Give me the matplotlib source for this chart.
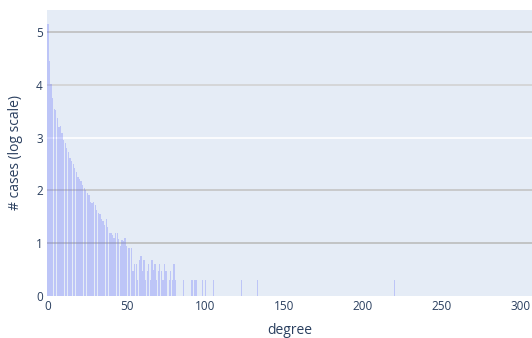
import matplotlib
matplotlib.use("Agg")
import matplotlib.pyplot as plt

degrees = list(range(0, 83)) + [86, 91, 92, 93, 94, 98, 100, 105, 123, 133, 220]
log_cases = [
    5.15, 4.45, 4.02, 3.75, 3.55, 3.52, 3.38, 3.20, 3.22, 3.08,
    2.95, 2.90, 2.80, 2.72, 2.62, 2.55, 2.50, 2.42, 2.35, 2.25,
    2.22, 2.18, 2.10, 2.05, 2.00, 1.96, 1.92, 1.78, 1.76, 1.78,
    1.72, 1.62, 1.58, 1.56, 1.45, 1.42, 1.35, 1.46, 1.30, 1.20,
    1.20, 1.15, 1.10, 1.19, 1.19, 1.08, 0.95, 1.06, 1.04, 1.09,
    0.95, 0.90, 0.90, 0.90, 0.48, 0.60, 0.60, 0.30, 0.68, 0.76,
    0.48, 0.68, 0.30, 0.48, 0.60, 0.30, 0.68, 0.49, 0.60, 0.30,
    0.48, 0.60, 0.48, 0.30, 0.60, 0.48, 0.00, 0.30, 0.48, 0.30,
    0.60, 0.30, 0.00,
    0.30, 0.30, 0.30, 0.30, 0.30, 0.30, 0.30, 0.30, 0.30, 0.30, 0.30,
]
x_ticks = [0, 50, 100, 150, 200, 250, 300]
y_ticks = [0, 1, 2, 3, 4, 5]
grid_colors = {1: "#bcbcbc", 2: "#c4c4c4", 3: "#ffffff", 4: "#d2d2d2", 5: "#bebebe"}

plt.rcParams["font.family"] = ["Open Sans", "DejaVu Sans"]
fig = plt.figure(figsize=(5.32, 3.38), dpi=100)
ax = fig.add_axes([47/532, 42/338, 1 - 47/532, 286/338])
ax.set_facecolor("#E5ECF6")

for y in y_ticks[1:]:
    ax.axhline(y, color=grid_colors[y], lw=1.2, zorder=1)

ax.bar(degrees, log_cases, width=0.8, color="#636efa", alpha=0.3, zorder=2, linewidth=0)

ax.set_xlim(-0.6, 307.3)
ax.set_ylim(0, 5.417)
ax.set_xticks(x_ticks)
ax.set_yticks(y_ticks)
for s in ax.spines.values():
    s.set_visible(False)
ax.tick_params(length=0, labelsize=8.5, colors="#2a3f5f", pad=3)
ax.set_xlabel("degree", fontsize=10, color="#2a3f5f", labelpad=7)
ax.set_ylabel("# cases (log scale)", fontsize=10, color="#2a3f5f", labelpad=9)

fig.savefig("out.png", dpi=100)
